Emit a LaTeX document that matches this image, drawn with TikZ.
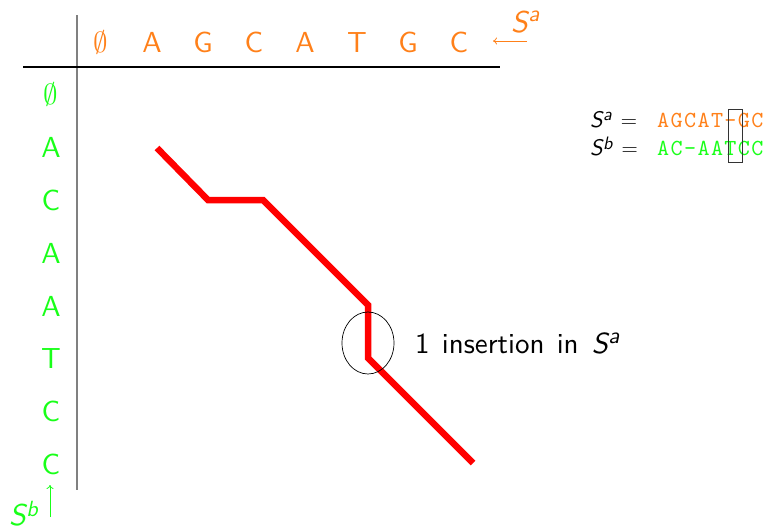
\RequirePackage{fix-cm}
\documentclass[tikz,border=0pt]{standalone}
\usepackage{fontspec}
\newfontfamily\lmsten[ItalicFont=lmsans10-oblique.otf]{lmsans10-regular.otf}
\newfontfamily\lmttten[LetterSpace=6]{lmmono10-regular.otf}
\usetikzlibrary{arrows.meta,shapes.geometric}
\definecolor{seqa}{rgb}{1,0.5,0.1}
\definecolor{seqb}{rgb}{0.1,1,0.1}
\newcommand{\gridfont}{\lmsten\fontsize{29}{31}\selectfont}
\newcommand{\seqfont}{\lmsten\fontsize{30}{32}\selectfont}
\newcommand{\eqfont}{\lmsten\fontsize{22.5}{24}\selectfont}
% S with superscript: #1 letter, #2 size of superscript, #3 raise
\newcommand{\Ssup}[3]{{\itshape S}\kern0.5pt\raisebox{#3}{\fontsize{#2}{#2}\selectfont\itshape #1}}
\begin{document}
\begin{tikzpicture}[x=1pt,y=-1pt,
  toplbl/.style={text=seqa,font=\gridfont,anchor=base,inner sep=0pt},
  leftlbl/.style={text=seqb,font=\gridfont,anchor=base,inner sep=0pt},
  pathline/.style={red,line width=6.5pt,line join=miter},
  seqarrow/.style={line width=0.8pt,-{To[length=4pt,width=7pt]}},
  eqlbl/.style={font=\eqfont,anchor=base west,inner sep=0pt},
  aligntt/.style={font=\lmttten\fontsize{23}{25}\selectfont,anchor=base west,inner sep=0pt}]
\useasboundingbox (0,0) rectangle (772,531);
% axes
\coordinate (vtop) at (77,15);
\coordinate (vbot) at (77,490);
\coordinate (hl) at (23,67);
\coordinate (hr) at (500,67);
\draw[gray,line width=1.8pt] (vtop) -- (vbot);
\draw[black,line width=1.1pt] (hl) -- (hr);
% top labels
\node[toplbl] (t0) at (101,52) {$\emptyset$};
\node[toplbl] (t1) at (152,52) {A};
\node[toplbl] (t2) at (203,52) {G};
\node[toplbl] (t3) at (254,52) {C};
\node[toplbl] (t4) at (305,52) {A};
\node[toplbl] (t5) at (357,52) {T};
\node[toplbl] (t6) at (408,52) {G};
\node[toplbl] (t7) at (459,52) {C};
% left labels
\node[leftlbl] (l0) at (51,104) {$\emptyset$};
\node[leftlbl] (l1) at (51,157) {A};
\node[leftlbl] (l2) at (51,210) {C};
\node[leftlbl] (l3) at (51,263) {A};
\node[leftlbl] (l4) at (51,316) {A};
\node[leftlbl] (l5) at (51,368) {T};
\node[leftlbl] (l6) at (51,421) {C};
\node[leftlbl] (l7) at (51,474) {C};
% sequence arrows
\coordinate (satail) at (527,41);
\coordinate (sahead) at (493,41);
\draw[seqa,seqarrow] (satail) -- (sahead);
\node[text=seqa,font=\seqfont,anchor=base west,inner sep=0pt] (sa) at (511,32) {\Ssup{a}{23pt}{11pt}};
\coordinate (sbtail) at (50,517);
\coordinate (sbhead) at (50,485);
\draw[seqb,seqarrow] (sbtail) -- (sbhead);
\node[text=seqb,font=\seqfont,anchor=base west,inner sep=0pt] (sb) at (9,525) {\Ssup{b}{22pt}{9pt}};
% alignment path
\coordinate (p0) at (157,148);
\coordinate (p1) at (208,200);
\coordinate (p2) at (263,200);
\coordinate (p3) at (368,305);
\coordinate (p4) at (368,358);
\coordinate (p5) at (473,463);
\draw[pathline] (p0) -- (p1) -- (p2) -- (p3) -- (p4) -- (p5);
% ellipse and annotation
\node[draw=black,line width=0.7pt,ellipse,minimum width=52pt,minimum height=62pt,inner sep=0pt] (ell) at (368,343) {};
\node[font=\gridfont,anchor=base west,inner sep=0pt] (ins) at (415,353) {1\hspace{0.42em}insertion\hspace{0.42em}in\hspace{0.45em}\Ssup{a}{23pt}{10pt}};
% alignment
\node[eqlbl] (eqa) at (590,127) {\Ssup{a}{18pt}{7pt}\hspace{0.4em}$=$};
\node[eqlbl] (eqb) at (590,155) {\Ssup{b}{18pt}{6pt}\hspace{0.4em}$=$};
\node[aligntt,text=seqa] (ala) at (657,127) {AGCAT-GC};
\node[aligntt,text=seqb] (alb) at (657,155) {AC-AATCC};
\draw[black!80,line width=0.9pt] (728,109) rectangle (742,162);
\end{tikzpicture}
\end{document}
